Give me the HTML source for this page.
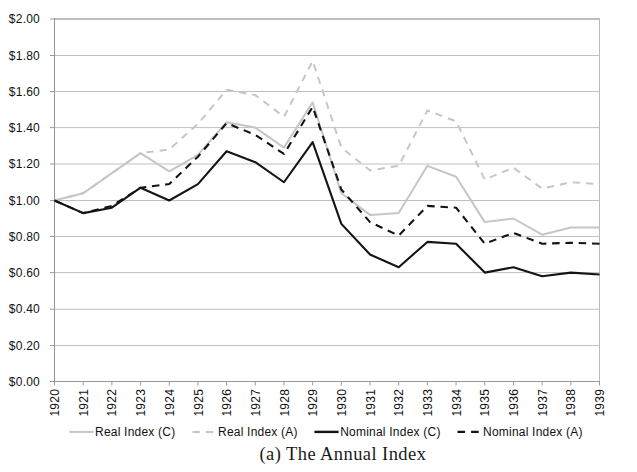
<!DOCTYPE html>
<html><head><meta charset="utf-8"><style>
html,body{margin:0;padding:0;background:#fff;}
body{width:637px;height:472px;overflow:hidden;}
svg{display:block;}
.t{font-family:"Liberation Sans",sans-serif;font-size:12px;fill:#111;}
.cap{font-family:"Liberation Serif",serif;font-size:18.5px;fill:#1a1a1a;letter-spacing:0.42px;}
.l{letter-spacing:0.22px;}
.yl{letter-spacing:0.22px;}
.xl{letter-spacing:0.3px;}
</style></head><body>
<svg width="637" height="472" viewBox="0 0 637 472">
<line x1="54.50" y1="345.50" x2="599.50" y2="345.50" stroke="#bfbfbf" stroke-width="1"/>
<line x1="54.50" y1="309.25" x2="599.50" y2="309.25" stroke="#bfbfbf" stroke-width="1"/>
<line x1="54.50" y1="272.60" x2="599.50" y2="272.60" stroke="#bfbfbf" stroke-width="1"/>
<line x1="54.50" y1="236.50" x2="599.50" y2="236.50" stroke="#bfbfbf" stroke-width="1"/>
<line x1="54.50" y1="200.50" x2="599.50" y2="200.50" stroke="#bfbfbf" stroke-width="1"/>
<line x1="54.50" y1="164.00" x2="599.50" y2="164.00" stroke="#bfbfbf" stroke-width="1"/>
<line x1="54.50" y1="127.60" x2="599.50" y2="127.60" stroke="#bfbfbf" stroke-width="1"/>
<line x1="54.50" y1="91.50" x2="599.50" y2="91.50" stroke="#bfbfbf" stroke-width="1"/>
<line x1="54.50" y1="55.50" x2="599.50" y2="55.50" stroke="#bfbfbf" stroke-width="1"/>
<line x1="54.50" y1="19.00" x2="600.00" y2="19.00" stroke="#bdbdbd" stroke-width="1.9"/>
<line x1="599.50" y1="19.00" x2="599.50" y2="381.50" stroke="#bbbbbb" stroke-width="1"/>
<line x1="50" y1="381.50" x2="54.50" y2="381.50" stroke="#9c9c9c" stroke-width="1"/>
<line x1="50" y1="345.50" x2="54.50" y2="345.50" stroke="#9c9c9c" stroke-width="1"/>
<line x1="50" y1="309.25" x2="54.50" y2="309.25" stroke="#9c9c9c" stroke-width="1"/>
<line x1="50" y1="272.60" x2="54.50" y2="272.60" stroke="#9c9c9c" stroke-width="1"/>
<line x1="50" y1="236.50" x2="54.50" y2="236.50" stroke="#9c9c9c" stroke-width="1"/>
<line x1="50" y1="200.50" x2="54.50" y2="200.50" stroke="#9c9c9c" stroke-width="1"/>
<line x1="50" y1="164.00" x2="54.50" y2="164.00" stroke="#9c9c9c" stroke-width="1"/>
<line x1="50" y1="127.60" x2="54.50" y2="127.60" stroke="#9c9c9c" stroke-width="1"/>
<line x1="50" y1="91.50" x2="54.50" y2="91.50" stroke="#9c9c9c" stroke-width="1"/>
<line x1="50" y1="55.50" x2="54.50" y2="55.50" stroke="#9c9c9c" stroke-width="1"/>
<line x1="50" y1="19.00" x2="54.50" y2="19.00" stroke="#9c9c9c" stroke-width="1"/>
<line x1="54.50" y1="381.50" x2="54.50" y2="385.50" stroke="#9c9c9c" stroke-width="1"/>
<line x1="83.18" y1="381.50" x2="83.18" y2="385.50" stroke="#9c9c9c" stroke-width="1"/>
<line x1="111.87" y1="381.50" x2="111.87" y2="385.50" stroke="#9c9c9c" stroke-width="1"/>
<line x1="140.55" y1="381.50" x2="140.55" y2="385.50" stroke="#9c9c9c" stroke-width="1"/>
<line x1="169.24" y1="381.50" x2="169.24" y2="385.50" stroke="#9c9c9c" stroke-width="1"/>
<line x1="197.92" y1="381.50" x2="197.92" y2="385.50" stroke="#9c9c9c" stroke-width="1"/>
<line x1="226.61" y1="381.50" x2="226.61" y2="385.50" stroke="#9c9c9c" stroke-width="1"/>
<line x1="255.29" y1="381.50" x2="255.29" y2="385.50" stroke="#9c9c9c" stroke-width="1"/>
<line x1="283.97" y1="381.50" x2="283.97" y2="385.50" stroke="#9c9c9c" stroke-width="1"/>
<line x1="312.66" y1="381.50" x2="312.66" y2="385.50" stroke="#9c9c9c" stroke-width="1"/>
<line x1="341.34" y1="381.50" x2="341.34" y2="385.50" stroke="#9c9c9c" stroke-width="1"/>
<line x1="370.03" y1="381.50" x2="370.03" y2="385.50" stroke="#9c9c9c" stroke-width="1"/>
<line x1="398.71" y1="381.50" x2="398.71" y2="385.50" stroke="#9c9c9c" stroke-width="1"/>
<line x1="427.39" y1="381.50" x2="427.39" y2="385.50" stroke="#9c9c9c" stroke-width="1"/>
<line x1="456.08" y1="381.50" x2="456.08" y2="385.50" stroke="#9c9c9c" stroke-width="1"/>
<line x1="484.76" y1="381.50" x2="484.76" y2="385.50" stroke="#9c9c9c" stroke-width="1"/>
<line x1="513.45" y1="381.50" x2="513.45" y2="385.50" stroke="#9c9c9c" stroke-width="1"/>
<line x1="542.13" y1="381.50" x2="542.13" y2="385.50" stroke="#9c9c9c" stroke-width="1"/>
<line x1="570.82" y1="381.50" x2="570.82" y2="385.50" stroke="#9c9c9c" stroke-width="1"/>
<line x1="599.50" y1="381.50" x2="599.50" y2="385.50" stroke="#9c9c9c" stroke-width="1"/>
<line x1="54.50" y1="18.00" x2="54.50" y2="381.50" stroke="#979797" stroke-width="1"/>
<line x1="50" y1="381.50" x2="600.00" y2="381.50" stroke="#979797" stroke-width="1"/>
<text x="40.0" y="385.70" text-anchor="end" class="t yl">$0.00</text>
<text x="40.0" y="349.70" text-anchor="end" class="t yl">$0.20</text>
<text x="40.0" y="313.45" text-anchor="end" class="t yl">$0.40</text>
<text x="40.0" y="276.80" text-anchor="end" class="t yl">$0.60</text>
<text x="40.0" y="240.70" text-anchor="end" class="t yl">$0.80</text>
<text x="40.0" y="204.70" text-anchor="end" class="t yl">$1.00</text>
<text x="40.0" y="168.20" text-anchor="end" class="t yl">$1.20</text>
<text x="40.0" y="131.80" text-anchor="end" class="t yl">$1.40</text>
<text x="40.0" y="95.70" text-anchor="end" class="t yl">$1.60</text>
<text x="40.0" y="59.70" text-anchor="end" class="t yl">$1.80</text>
<text x="40.0" y="23.20" text-anchor="end" class="t yl">$2.00</text>
<text transform="translate(59.10,388.7) rotate(-90)" text-anchor="end" class="t xl">1920</text>
<text transform="translate(87.78,388.7) rotate(-90)" text-anchor="end" class="t xl">1921</text>
<text transform="translate(116.47,388.7) rotate(-90)" text-anchor="end" class="t xl">1922</text>
<text transform="translate(145.15,388.7) rotate(-90)" text-anchor="end" class="t xl">1923</text>
<text transform="translate(173.84,388.7) rotate(-90)" text-anchor="end" class="t xl">1924</text>
<text transform="translate(202.52,388.7) rotate(-90)" text-anchor="end" class="t xl">1925</text>
<text transform="translate(231.21,388.7) rotate(-90)" text-anchor="end" class="t xl">1926</text>
<text transform="translate(259.89,388.7) rotate(-90)" text-anchor="end" class="t xl">1927</text>
<text transform="translate(288.57,388.7) rotate(-90)" text-anchor="end" class="t xl">1928</text>
<text transform="translate(317.26,388.7) rotate(-90)" text-anchor="end" class="t xl">1929</text>
<text transform="translate(345.94,388.7) rotate(-90)" text-anchor="end" class="t xl">1930</text>
<text transform="translate(374.63,388.7) rotate(-90)" text-anchor="end" class="t xl">1931</text>
<text transform="translate(403.31,388.7) rotate(-90)" text-anchor="end" class="t xl">1932</text>
<text transform="translate(431.99,388.7) rotate(-90)" text-anchor="end" class="t xl">1933</text>
<text transform="translate(460.68,388.7) rotate(-90)" text-anchor="end" class="t xl">1934</text>
<text transform="translate(489.36,388.7) rotate(-90)" text-anchor="end" class="t xl">1935</text>
<text transform="translate(518.05,388.7) rotate(-90)" text-anchor="end" class="t xl">1936</text>
<text transform="translate(546.73,388.7) rotate(-90)" text-anchor="end" class="t xl">1937</text>
<text transform="translate(575.42,388.7) rotate(-90)" text-anchor="end" class="t xl">1938</text>
<text transform="translate(604.10,388.7) rotate(-90)" text-anchor="end" class="t xl">1939</text>
<polyline points="54.50,200.50 83.18,193.20 111.87,173.13 140.55,153.08 169.24,171.30 197.92,154.90 226.61,122.19 255.29,127.60 283.97,147.62 312.66,102.33 341.34,193.20 370.03,214.90 398.71,213.10 427.39,165.83 456.08,176.78 484.76,222.10 513.45,218.50 542.13,234.70 570.82,227.50 599.50,227.50" fill="none" stroke="#c6c6c6" stroke-width="2.0" stroke-linejoin="round"/>
<polyline points="54.50,200.50 83.18,193.20 111.87,173.13 140.55,153.08 169.24,149.44 197.92,123.99 226.61,89.70 255.29,95.11 283.97,116.77 312.66,60.90 341.34,147.62 370.03,170.39 398.71,165.83 427.39,110.45 456.08,121.28 484.76,179.51 513.45,167.65 542.13,188.64 570.82,182.25 599.50,184.07" fill="none" stroke="#c6c6c6" stroke-width="2.0" stroke-dasharray="7.2,6" stroke-linejoin="round"/>
<polyline points="54.50,200.50 83.18,213.10 111.87,207.70 140.55,187.72 169.24,200.50 197.92,184.07 226.61,151.26 255.29,162.18 283.97,182.25 312.66,142.16 341.34,223.90 370.03,254.55 398.71,267.19 427.39,241.92 456.08,243.72 484.76,272.60 513.45,267.19 542.13,276.27 570.82,272.60 599.50,274.43" fill="none" stroke="#141414" stroke-width="2.1" stroke-linejoin="round"/>
<polyline points="54.50,200.50 83.18,213.10 111.87,205.90 140.55,187.72 169.24,184.07 197.92,156.72 226.61,123.09 255.29,134.88 283.97,153.99 312.66,106.84 341.34,189.55 370.03,222.10 398.71,235.60 427.39,205.90 456.08,207.70 484.76,243.72 513.45,232.90 542.13,243.72 570.82,242.82 599.50,243.72" fill="none" stroke="#141414" stroke-width="2.1" stroke-dasharray="7.5,5.8" stroke-linejoin="round"/>
<line x1="69.4" y1="431.9" x2="93.6" y2="431.9" stroke="#c6c6c6" stroke-width="2.0"/>
<text x="95.0" y="436.20" class="t l">Real Index (C)</text>
<line x1="192.5" y1="431.9" x2="216" y2="431.9" stroke="#c6c6c6" stroke-width="2.0" stroke-dasharray="7.3,6"/>
<text x="218.0" y="436.20" class="t l">Real Index (A)</text>
<line x1="314.4" y1="431.9" x2="338.6" y2="431.9" stroke="#141414" stroke-width="2.4"/>
<text x="340.2" y="436.20" class="t l">Nominal Index (C)</text>
<line x1="457.5" y1="431.9" x2="480" y2="431.9" stroke="#141414" stroke-width="2.4" stroke-dasharray="7.6,6"/>
<text x="483.0" y="436.20" class="t l">Nominal Index (A)</text>
<text x="259.5" y="460.0" class="cap">(a) The Annual Index</text>
</svg>
</body></html>
